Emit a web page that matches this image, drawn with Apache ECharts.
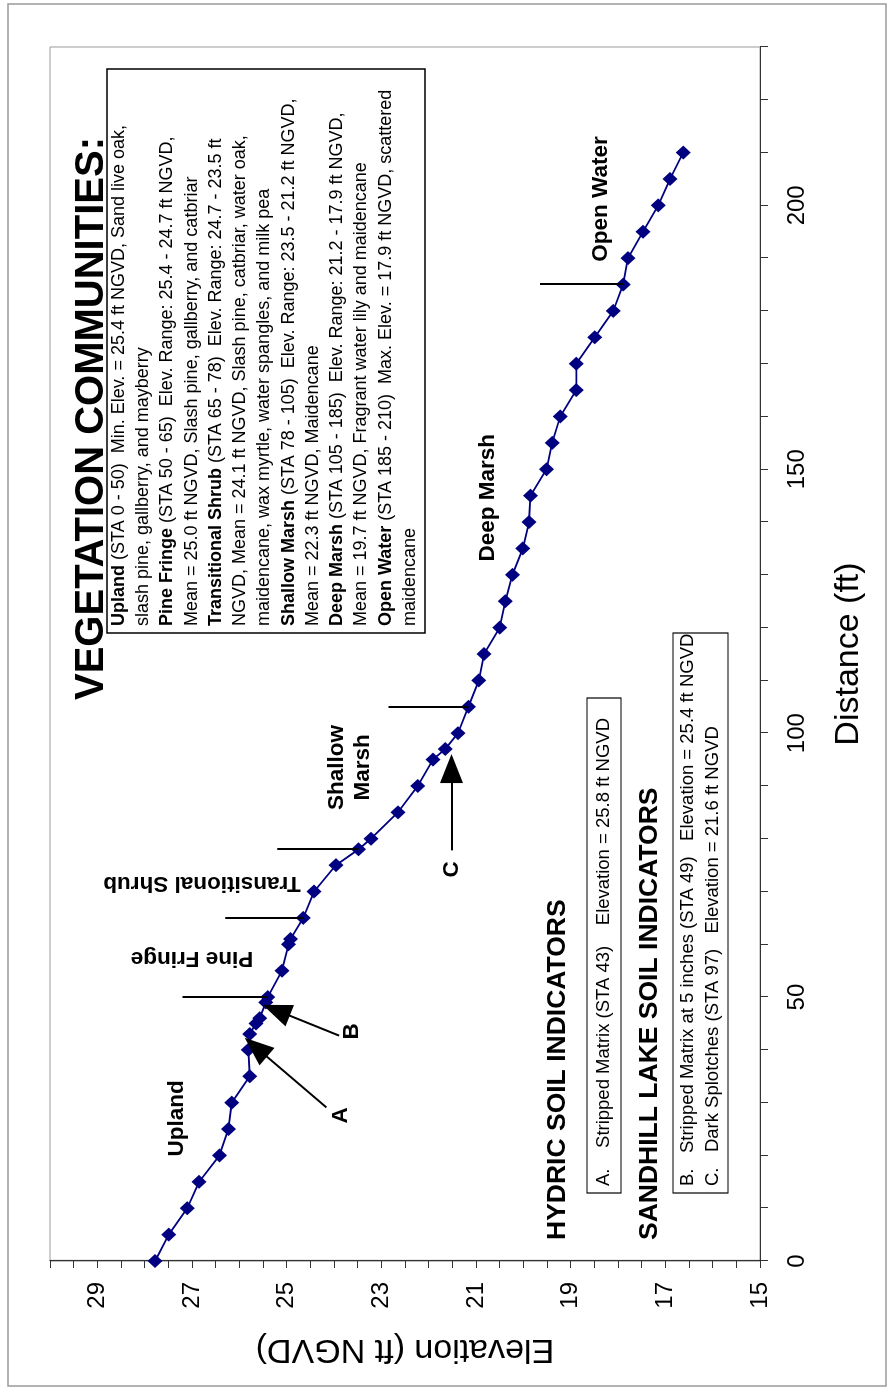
<!DOCTYPE html>
<html>
<head>
<meta charset="utf-8">
<script src="https://cdn.jsdelivr.net/npm/echarts@6/dist/echarts.min.js"></script>
<style>
  html, body { margin: 0; padding: 0; background: #fff; overflow: hidden; width: 894px; height: 1390px; }
  /* the profile is laid out landscape and turned a quarter turn counter-clockwise onto the page */
  #chart { position: absolute; left: 0; top: 0; width: 1390px; height: 894px;
           transform-origin: 0 0; transform: translate(0, 1390px) rotate(-90deg); }
</style>
</head>
<body>
<div id="chart"></div>
<script>
// Transect survey: station distance (ft) and ground elevation (ft NGVD)
const stations = [0, 5, 10, 15, 20, 25, 30, 35, 40, 43, 45, 46, 49, 50, 55, 60, 61, 65, 70, 75,
  78, 80, 85, 90, 95, 97, 100, 105, 110, 115, 120, 125, 130, 135, 140, 145, 150, 155, 160, 165,
  170, 175, 180, 185, 190, 195, 200, 205, 210];
const elevations = [27.78, 27.49, 27.10, 26.85, 26.42, 26.23, 26.16, 25.78, 25.81, 25.78, 25.65, 25.57, 25.44, 25.40, 25.10, 24.96, 24.92, 24.65, 24.42, 23.96,
  23.48, 23.22, 22.65, 22.23, 21.91, 21.65, 21.38, 21.16, 20.94, 20.83, 20.50, 20.38, 20.23, 20.01, 19.88, 19.85, 19.51, 19.39, 19.22, 18.88,
  18.88, 18.49, 18.10, 17.89, 17.79, 17.47, 17.15, 16.90, 16.62];

// Vegetation zone names placed along the profile
const zoneNames = ['Upland', 'Pine Fringe', 'Transitional Shrub', 'Shallow\nMarsh', 'Deep Marsh', 'Open Water'];
const zoneLabelStation = [27, 57.3, 71.6, 93.5, 144.6, 201.2];
const zoneLabelElev = [27.32, 27.0, 26.79, 23.66, 20.76, 18.37];
const zoneLabelRotate = [0, 90, 90, 0, 0, 0];

// Zone boundaries (station) with the top of the marker line
const boundaryStations = [50, 65, 78, 105, 185];
const boundaryTopElev = [27.2, 26.3, 25.2, 22.85, 19.65];
const boundaryBaseElev = [25.40, 24.65, 23.48, 21.16, 17.89];

// Soil indicator call-outs: [station, elevation]
const arrowLabels = ['A', 'B', 'C'];
const arrowTail = [[29.1, 24.16], [42.7, 23.89], [77.8, 21.52]];
const arrowTip = [[40.5, 25.65], [47.5, 25.22], [93.3, 21.52]];
const arrowLabelPos = [[27.6, 23.86], [43.5, 23.62], [74.2, 21.52]];

// Axis ticks
const distanceLabels = [0, 50, 100, 150, 200];
const elevationLabels = [15, 17, 19, 21, 23, 25, 27, 29];

// Legend text
const vegetationLines = [
  '{b|Upland} (STA 0 - 50)  Min. Elev. = 25.4 ft NGVD, Sand live oak,',
  'slash pine, gallberry, and mayberry',
  '{b|Pine Fringe} (STA 50 - 65)  Elev. Range: 25.4 - 24.7 ft NGVD,',
  'Mean = 25.0 ft NGVD, Slash pine, gallberry, and catbriar',
  '{b|Transitional Shrub} (STA 65 - 78)  Elev. Range: 24.7 - 23.5 ft',
  'NGVD, Mean = 24.1 ft NGVD, Slash pine, catbriar, water oak,',
  'maidencane, wax myrtle, water spangles, and milk pea',
  '{b|Shallow Marsh} (STA 78 - 105)  Elev. Range: 23.5 - 21.2 ft NGVD,',
  'Mean = 22.3 ft NGVD, Maidencane',
  '{b|Deep Marsh} (STA 105 - 185)  Elev. Range: 21.2 - 17.9 ft NGVD,',
  'Mean = 19.7 ft NGVD, Fragrant water lily and maidencane',
  '{b|Open Water} (STA 185 - 210)  Max. Elev. = 17.9 ft NGVD, scattered',
  'maidencane'
];
const hydricLines = ['A.    Stripped Matrix (STA 43)    Elevation = 25.8 ft NGVD'];
const sandhillLines = [
  'B.   Stripped Matrix at 5 inches (STA 49)   Elevation = 25.4 ft NGVD',
  'C.   Dark Splotches (STA 97)   Elevation = 21.6 ft NGVD'
];

const FONT = '"Liberation Sans", Arial, Helvetica, sans-serif';
const NAVY = '#000080';

const chart = echarts.init(document.getElementById('chart'), null, { renderer: 'canvas' });

const profile = stations.map((s, i) => [s, elevations[i]]);

const boundaryLines = boundaryStations.map((s, i) => [
  { coord: [s, boundaryTopElev[i]] },
  { coord: [s, boundaryBaseElev[i]] }
]);
const arrowLines = arrowTail.map((t, i) => [
  { coord: t, symbol: 'none' },
  { coord: arrowTip[i], symbol: 'triangle', symbolSize: [23, 29] }
]);

const zonePoints = zoneNames.map((n, i) => ({
  coord: [zoneLabelStation[i], zoneLabelElev[i]],
  label: { formatter: n, rotate: zoneLabelRotate[i] }
}));
const arrowLabelPoints = arrowLabels.map((n, i) => ({
  coord: arrowLabelPos[i],
  label: { formatter: n }
}));

// one text element per line, left aligned, vertically centred on its row
function textBlock(lines, x, yFirst, lineH, size) {
  return lines.map((t, i) => ({
    type: 'text', x: x, y: yFirst + i * lineH, silent: true,
    style: { text: t, font: size + 'px ' + FONT, fill: '#000', align: 'left', verticalAlign: 'middle',
      rich: { b: { fontWeight: 'bold', fontSize: size, fontFamily: FONT } } }
  }));
}
function heading(text, x, y, size) {
  return { type: 'text', x: x, y: y, silent: true,
    style: { text: text, font: 'bold ' + size + 'px ' + FONT, fill: '#000', align: 'left', verticalAlign: 'middle' } };
}

chart.setOption({
  animation: false,
  backgroundColor: '#fff',
  grid: { left: 129, right: 47, top: 50, bottom: 134, show: true, borderColor: '#9a9a9a', borderWidth: 1 },
  xAxis: {
    type: 'value', min: 0, max: 230, interval: 10,
    name: 'Distance (ft)', nameLocation: 'middle', nameGap: 72,
    nameTextStyle: { fontFamily: FONT, fontSize: 34, color: '#000' },
    axisLine: { lineStyle: { color: '#333', width: 1.2 } },
    axisTick: { length: 8, lineStyle: { color: '#333' } },
    splitLine: { show: false },
    axisLabel: {
      fontFamily: FONT, fontSize: 24, color: '#000', margin: 25,
      formatter: v => distanceLabels.includes(v) ? String(v) : ''
    }
  },
  yAxis: {
    type: 'value', min: 15, max: 30, interval: 0.5,
    name: 'Elevation (ft NGVD)', nameLocation: 'middle', nameGap: 71, nameRotate: 90,
    nameTextStyle: { fontFamily: FONT, fontSize: 34, color: '#000' },
    axisLine: { show: true, lineStyle: { color: '#333', width: 1.2 } },
    axisTick: { show: true, length: 7, lineStyle: { color: '#333' } },
    splitLine: { show: false },
    axisLabel: {
      fontFamily: FONT, fontSize: 24, color: '#000', margin: 21,
      formatter: v => elevationLabels.includes(v) ? String(v) : ''
    }
  },
  series: [{
    type: 'line',
    data: profile,
    symbol: 'diamond', symbolSize: [14, 15],
    itemStyle: { color: NAVY },
    lineStyle: { color: NAVY, width: 1.8 },
    markLine: {
      silent: true, symbol: 'none', animation: false,
      label: { show: false },
      lineStyle: { color: '#000', width: 2, type: 'solid' },
      data: boundaryLines.concat(arrowLines)
    },
    markPoint: {
      silent: true, symbol: 'circle', symbolSize: 0, animation: false,
      label: { show: true, position: 'inside', color: '#000', fontFamily: FONT,
        fontWeight: 'bold', fontSize: 22.5, lineHeight: 26, align: 'center', verticalAlign: 'middle' },
      data: zonePoints.concat(arrowLabelPoints)
    }
  }],
  graphic: [
    // outer frame of the figure
    { type: 'rect', shape: { x: 4, y: 8, width: 1382, height: 878 }, silent: true,
      style: { fill: 'none', stroke: '#9a9a9a', lineWidth: 1.5 } },
    // vegetation communities
    heading('VEGETATION COMMUNITIES:', 690, 92, 40),
    { type: 'rect', shape: { x: 757, y: 107, width: 564, height: 318 }, silent: true,
      style: { fill: '#fff', stroke: '#000', lineWidth: 1.5 } },
    ...textBlock(vegetationLines, 764, 119, 24.25, 18),
    // soil indicators
    heading('HYDRIC SOIL INDICATORS', 150, 558, 26.5),
    { type: 'rect', shape: { x: 197, y: 587, width: 495, height: 34 }, silent: true,
      style: { fill: '#fff', stroke: '#000', lineWidth: 1.2 } },
    ...textBlock(hydricLines, 204, 604, 24, 18.5),
    heading('SANDHILL LAKE SOIL INDICATORS', 150, 650, 26.5),
    { type: 'rect', shape: { x: 197, y: 673, width: 560, height: 55 }, silent: true,
      style: { fill: '#fff', stroke: '#000', lineWidth: 1.2 } },
    ...textBlock(sandhillLines, 204, 688, 25, 18.5)
  ]
});
</script>
</body>
</html>
